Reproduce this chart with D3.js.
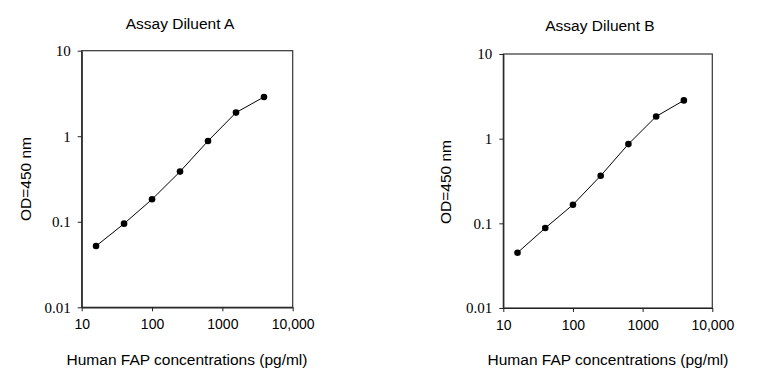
<!DOCTYPE html>
<html>
<head>
<meta charset="utf-8">
<script src="https://cdn.jsdelivr.net/npm/d3@7"></script>
<style>
  body { margin: 0; background: #fff; }
  svg { display: block; }
</style>
</head>
<body>
<div id="chart"></div>
<script>
// concentrations (pg/ml), shared by both panels
var conc = [16, 40, 100, 250, 625, 1562.5, 3906];
var odA = [0.052, 0.095, 0.183, 0.386, 0.88, 1.89, 2.88];
var odB = [0.045, 0.088, 0.166, 0.365, 0.863, 1.83, 2.83];
var xTicks = [10, 100, 1000, 10000];
var xTickLabels = ["10", "100", "1000", "10,000"];
var yTicks = [0.01, 0.1, 1, 10];
var yTickLabels = ["0.01", "0.1", "1", "10"];

var sans = "'Liberation Sans', Arial, sans-serif";
var serif = "'Liberation Serif', 'Times New Roman', serif";

var svg = d3.select("#chart")
  .append("svg")
  .attr("width", 758)
  .attr("height", 384);

// one panel: box position, title, data
function drawPanel(p) {
  var x = d3.scaleLog().domain([10, 10000]).range([p.left, p.right]);
  var y = d3.scaleLog().domain([0.01, 10]).range([p.bottom, p.top]);

  var g = svg.append("g");

  // frame (top + right)
  g.append("rect")
    .attr("x", p.left)
    .attr("y", p.top)
    .attr("width", p.right - p.left)
    .attr("height", p.bottom - p.top)
    .attr("fill", "none")
    .attr("stroke", "#333")
    .attr("stroke-width", 1.2);

  // x axis
  var xa = g.append("g")
    .attr("transform", "translate(0," + p.bottom + ")")
    .call(d3.axisBottom(x).tickValues(xTicks)
      .tickFormat(function(d, i) { return xTickLabels[i]; })
      .tickSize(4).tickPadding(8).tickSizeOuter(0));
  xa.attr("font-family", sans).attr("font-size", 14);
  xa.select(".domain").attr("stroke", "#222").attr("stroke-width", 1.2);
  xa.selectAll(".tick line").attr("stroke", "#222");
  xa.selectAll("text").style("font-family", sans).attr("fill", "#000");

  // y axis
  var ya = g.append("g")
    .attr("transform", "translate(" + p.left + ",0)")
    .call(d3.axisLeft(y).tickValues(yTicks)
      .tickFormat(function(d, i) { return yTickLabels[i]; })
      .tickSize(4).tickPadding(7).tickSizeOuter(0));
  ya.attr("font-family", serif).attr("font-size", 15);
  ya.select(".domain").attr("stroke", "#222").attr("stroke-width", 1.2);
  ya.selectAll(".tick line").attr("stroke", "#222");
  ya.selectAll("text").style("font-family", serif).attr("fill", "#000");

  var pts = conc.map(function(c, i) { return {c: c, v: p.data[i]}; });

  // curve
  g.append("path")
    .datum(pts)
    .attr("fill", "none")
    .attr("stroke", "#000")
    .attr("stroke-width", 1)
    .attr("d", d3.line()
      .x(function(d) { return x(d.c); })
      .y(function(d) { return y(d.v); }));

  // markers
  g.selectAll(".dot")
    .data(pts)
    .enter().append("circle")
    .attr("class", "dot")
    .attr("cx", function(d) { return x(d.c); })
    .attr("cy", function(d) { return y(d.v); })
    .attr("r", 3.3)
    .attr("fill", "#000");

  // title
  g.append("text")
    .attr("x", p.titleX)
    .attr("y", p.titleY)
    .attr("text-anchor", "middle")
    .attr("dominant-baseline", "central")
    .style("font-family", sans)
    .attr("font-size", "15.5px")
    .text(p.title);

  // x label
  g.append("text")
    .attr("x", p.xLabelX)
    .attr("y", 359)
    .attr("text-anchor", "middle")
    .attr("dominant-baseline", "central")
    .style("font-family", sans)
    .attr("font-size", "15.5px")
    .text("Human FAP concentrations (pg/ml)");

  // y label
  g.append("text")
    .attr("transform", "translate(" + p.yLabelX + "," + p.yLabelY + ") rotate(-90)")
    .attr("text-anchor", "middle")
    .attr("dominant-baseline", "central")
    .style("font-family", sans)
    .attr("font-size", "15.5px")
    .text("OD=450 nm");
}

drawPanel({left: 81.7, right: 292.7, top: 50.7, bottom: 307.3, data: odA,
  title: "Assay Diluent A", titleX: 180, titleY: 23,
  xLabelX: 187, yLabelX: 25, yLabelY: 179});

drawPanel({left: 503.3, right: 712.3, top: 54, bottom: 308, data: odB,
  title: "Assay Diluent B", titleX: 600, titleY: 25,
  xLabelX: 608, yLabelX: 445, yLabelY: 182});
</script>
</body>
</html>
